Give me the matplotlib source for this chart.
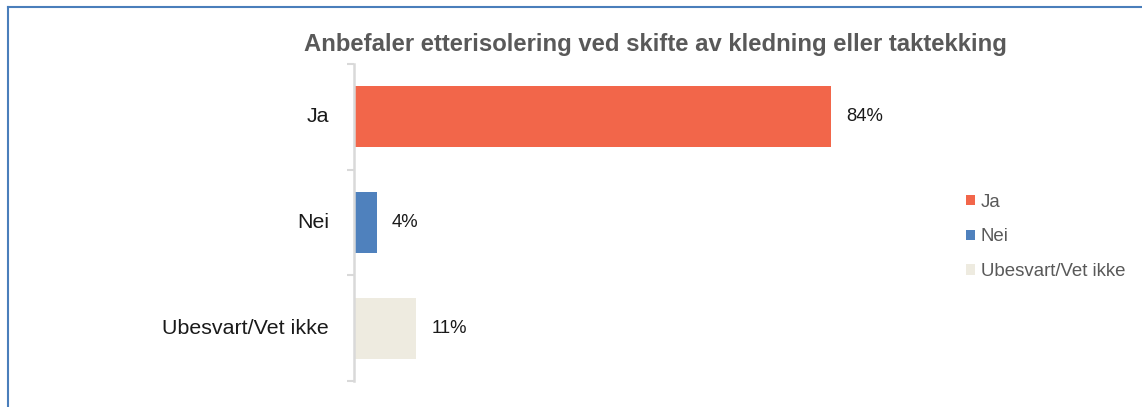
import matplotlib.pyplot as plt
from matplotlib.lines import Line2D

plt.rcParams['font.family'] = ['Liberation Sans', 'DejaVu Sans']

# Survey answers
categories = ['Ja', 'Nei', 'Ubesvart/Vet ikke']
shares = [84, 4, 11]
colors = ['#F2664A', '#4F81BD', '#EEEBE0']
title = 'Anbefaler etterisolering ved skifte av kledning eller taktekking'

fig = plt.figure(figsize=(11.42, 4.07), dpi=100)
ax = fig.add_axes([354 / 1142, 1 - 381 / 407, 568 / 1142, 317 / 407])

# one bar per answer so each gets its own legend entry
for i, (cat, val, col) in enumerate(zip(categories, shares, colors)):
    ax.barh(i, val, height=0.575, color=col, label=cat)
    ax.text(val + 2.6, i, f'{val}%', va='center', ha='left', fontsize=13.3, color='#1a1a1a')

ax.set_xlim(0, 100)
ax.set_ylim(2.5, -0.5)
ax.set_xticks([])
ax.set_yticks([-0.5, 0.5, 1.5, 2.5])
ax.set_yticklabels([])
ax.tick_params(axis='y', length=5, width=1.5, color='#d9d9d9')
for i, cat in enumerate(categories):
    ax.text(-0.044, i, cat, transform=ax.get_yaxis_transform(), ha='right', va='center',
            fontsize=15.4, color='#1a1a1a')
for side in ['top', 'right', 'bottom']:
    ax.spines[side].set_visible(False)
ax.spines['left'].set_color('#d9d9d9')
ax.spines['left'].set_linewidth(1.8)

fig.text(655 / 1142, 1 - 45 / 407, title, ha='center', va='center', fontsize=17.2,
         fontweight='bold', color='#595959')

fig.legend(loc='upper left', bbox_to_anchor=(949 / 1142, 1 - 177 / 407), frameon=False,
           fontsize=13.4, handlelength=0.5, handleheight=0.5, handletextpad=0.3,
           labelspacing=0.95, labelcolor='#595959')

# frame lines along the top and left edge
fig.add_artist(Line2D([8 / 1142, 1], [1 - 7 / 407] * 2, color='#4A7EBB', lw=1.5))
fig.add_artist(Line2D([8 / 1142] * 2, [0, 1 - 7 / 407], color='#4A7EBB', lw=1.5))

fig.savefig('out.png', dpi=100)
